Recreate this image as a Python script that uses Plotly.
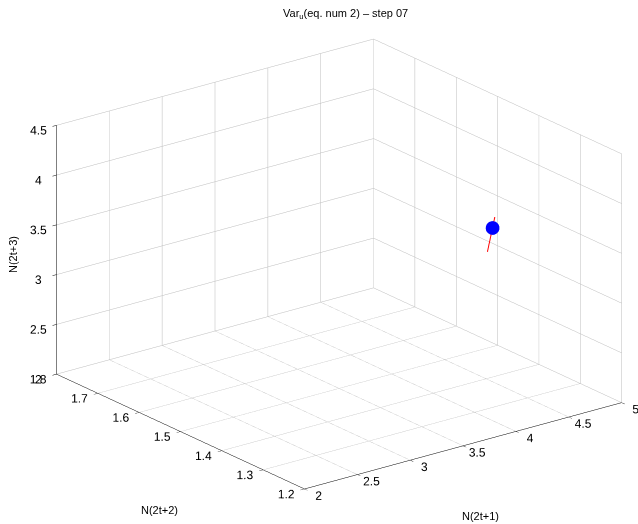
import plotly.graph_objects as go

# Point estimate in (N(2t+1), N(2t+2), N(2t+3)) space
point_x = [4.56]
point_y = [1.40]
point_z = [3.50]

# Red segment, lying just behind the point as seen from the camera
interval_x = [4.63, 4.70]
interval_y = [1.43, 1.43]
interval_z = [3.18, 3.51]

x_ticks = [2, 2.5, 3, 3.5, 4, 4.5, 5]
y_ticks = [1.2, 1.3, 1.4, 1.5, 1.6, 1.7, 1.8]
z_ticks = [2, 2.5, 3, 3.5, 4, 4.5]

x_range = [2, 5]
y_range = [1.2, 1.8]
z_range = [2, 4.5]

font_family = "Liberation Sans, Arial, sans-serif"

fig = go.Figure()
fig.add_trace(go.Scatter3d(
    x=interval_x, y=interval_y, z=interval_z, mode="lines",
    line=dict(color="red", width=2), hoverinfo="skip", showlegend=False))
fig.add_trace(go.Scatter3d(
    x=point_x, y=point_y, z=point_z, mode="markers",
    marker=dict(color="blue", size=8, line=dict(width=0)),
    hoverinfo="skip", showlegend=False))


def axis(ticks, rng):
    return dict(
        range=rng, tickvals=ticks, ticktext=[f"{t:g}" for t in ticks],
        autorange=False, showgrid=True, gridcolor="#bcbcbc", gridwidth=1,
        showline=True, linecolor="black", linewidth=1,
        ticks="outside", ticklen=5, tickcolor="black", tickangle=0,
        showbackground=False, zeroline=False, showspikes=False,
        tickfont=dict(family=font_family, size=12, color="black"),
        title=dict(text=""),
    )


eye_dir = (-0.569, -0.742, 0.355)
eye_scale = 2.5
box_scale = 1.537
# shift of the look-at point so the box sits right of the page centre
center_shift = (-0.0612, 0.0469, 0.0)

fig.update_layout(
    width=638, height=524,
    margin=dict(l=0, r=0, t=0, b=0),
    paper_bgcolor="white",
    font=dict(family=font_family, size=11, color="black"),
    scene=dict(
        domain=dict(x=[0.0, 1.0], y=[0.0, 0.992]),
        xaxis=axis(x_ticks, x_range),
        yaxis=axis(y_ticks, y_range),
        zaxis=axis(z_ticks, z_range),
        aspectmode="manual",
        aspectratio=dict(x=1.0 * box_scale, y=1.02 * box_scale,
                         z=0.666 * box_scale),
        camera=dict(
            projection=dict(type="orthographic"),
            eye=dict(x=eye_dir[0] * eye_scale + center_shift[0],
                     y=eye_dir[1] * eye_scale + center_shift[1],
                     z=eye_dir[2] * eye_scale + center_shift[2]),
            up=dict(x=0, y=0, z=1),
            center=dict(x=center_shift[0], y=center_shift[1],
                        z=center_shift[2]),
        ),
    ),
)

# text placed in pixels, converted to paper fractions
W, H = 638, 524
labels = [
    ("Var<sub>u</sub>(eq. num 2) – step 07", 345, 14, 0),
    ("N(2t+1)", 480, 516, 0),
    ("N(2t+2)", 160, 510, 0),
    ("N(2t+3)", 13, 255, -90),
]
fig.layout.annotations = [
    dict(text=t, x=px / W, y=1 - py / H, xref="paper", yref="paper",
         showarrow=False, textangle=ang, xanchor="center", yanchor="middle",
         font=dict(family=font_family, size=11, color="black"))
    for t, px, py, ang in labels
]

fig.write_html("out.html")
